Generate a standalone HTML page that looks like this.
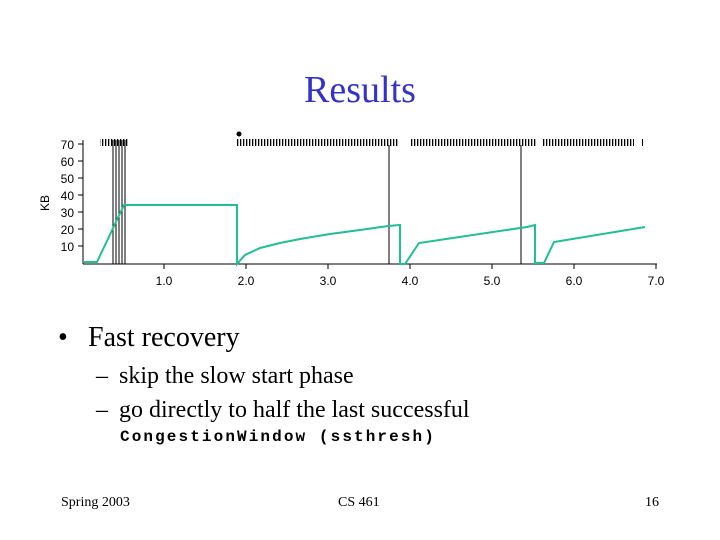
<!DOCTYPE html>
<html><head><style>
body{margin:0;width:720px;height:540px;background:#fff;position:relative;overflow:hidden;font-family:"Liberation Serif",serif}
.t{position:absolute;white-space:nowrap}
</style></head><body>
<div class="t" style="left:0;width:720px;text-align:center;top:68px;font-size:38px;color:#3333cc">Results</div>
<svg style="position:absolute;left:0;top:0" width="720" height="300">
<defs><pattern id="tk" x="0" y="0" width="3" height="8" patternUnits="userSpaceOnUse"><rect x="0" y="0" width="1.3" height="8" fill="#000"/></pattern></defs>
<g font-family="Liberation Sans,sans-serif" font-size="12" fill="#000">
<line x1="83" y1="140" x2="83" y2="264" stroke="#000"/>
<line x1="83" y1="264" x2="657" y2="264" stroke="#000"/>
<g stroke="#000">
<line x1="78" y1="144" x2="83" y2="144"/><line x1="78" y1="161" x2="83" y2="161"/><line x1="78" y1="178" x2="83" y2="178"/><line x1="78" y1="195" x2="83" y2="195"/><line x1="78" y1="212" x2="83" y2="212"/><line x1="78" y1="229" x2="83" y2="229"/><line x1="78" y1="246" x2="83" y2="246"/>
<line x1="164" y1="264" x2="164" y2="269"/><line x1="246" y1="264" x2="246" y2="269"/><line x1="328" y1="264" x2="328" y2="269"/><line x1="410" y1="264" x2="410" y2="269"/><line x1="492" y1="264" x2="492" y2="269"/><line x1="574" y1="264" x2="574" y2="269"/><line x1="656" y1="264" x2="656" y2="269"/>
</g>
<g text-anchor="end"><text x="74" y="149">70</text><text x="74" y="166">60</text><text x="74" y="183">50</text><text x="74" y="200">40</text><text x="74" y="217">30</text><text x="74" y="234">20</text><text x="74" y="251">10</text></g>
<g text-anchor="middle"><text x="164" y="285">1.0</text><text x="246" y="285">2.0</text><text x="328" y="285">3.0</text><text x="410" y="285">4.0</text><text x="492" y="285">5.0</text><text x="574" y="285">6.0</text><text x="656" y="285">7.0</text></g>
<text transform="translate(49,203) rotate(-90)" text-anchor="middle">KB</text>
</g>
<rect x="100" y="139" width="28" height="7" fill="url(#tk)"/>
<rect x="237" y="139" width="161" height="7" fill="url(#tk)"/>
<rect x="410" y="139" width="127" height="7" fill="url(#tk)"/>
<rect x="543" y="139" width="91" height="7" fill="url(#tk)"/>
<rect x="642" y="139" width="1" height="7" fill="#000"/>
<circle cx="239" cy="134" r="2.5" fill="#000"/>
<g stroke="#000" stroke-width="1"><line x1="113" y1="140" x2="113" y2="264"/><line x1="116" y1="140" x2="116" y2="264"/><line x1="119" y1="140" x2="119" y2="264"/><line x1="122" y1="140" x2="122" y2="264"/><line x1="125" y1="140" x2="125" y2="264"/>
<line x1="389" y1="145" x2="389" y2="264"/><line x1="521" y1="145" x2="521" y2="264"/></g>
<polyline fill="none" stroke="#20bf95" stroke-width="2" points="83,262 97,262 124,205 237,205 237,264 245,255 260,248 280,243 300,239 330,234 360,230 388,226 400,225 400,264 405,264 419,243 527,227 535,225 535,263 544,263 554,242 645,227"/>
</svg>
<div class="t" style="left:58px;top:322px;font-size:28px">•</div>
<div class="t" style="left:88px;top:322px;font-size:28px">Fast recovery</div>
<div class="t" style="left:96px;top:363px;font-size:24px">–</div>
<div class="t" style="left:119px;top:363px;font-size:24px">skip the slow start phase</div>
<div class="t" style="left:96px;top:397px;font-size:24px">–</div>
<div class="t" style="left:119px;top:397px;font-size:24px">go directly to half the last successful</div>
<div class="t" style="left:120px;top:428px;font-size:16px;letter-spacing:2.1px;font-weight:bold;font-family:'Liberation Mono',monospace">CongestionWindow (ssthresh)</div>
<div class="t" style="left:61px;top:495px;font-size:14px">Spring 2003</div>
<div class="t" style="left:338px;top:495px;font-size:14px">CS 461</div>
<div class="t" style="left:645px;top:495px;font-size:14px">16</div>
</body></html>
